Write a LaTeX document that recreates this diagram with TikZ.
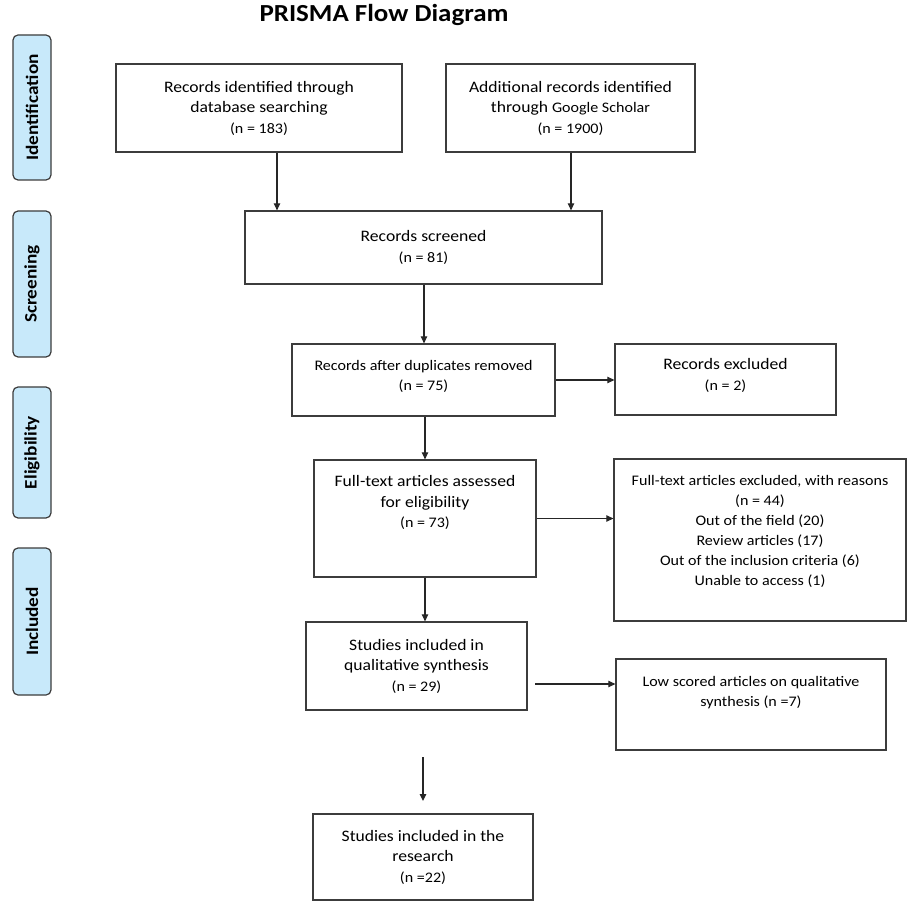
\documentclass[tikz,border=0pt]{standalone}
\usepackage{fontspec}
\setmainfont[FakeStretch=1.1]{Carlito}
\usetikzlibrary{arrows.meta,calc}
\definecolor{boxline}{RGB}{60,60,60}
\definecolor{sidefill}{RGB}{200,233,250}
\newcommand{\mainf}{\fontsize{16}{20.5}\selectfont}
\newcommand{\nf}{\fontsize{14.6}{20}\selectfont}
\tikzset{
  flowbox/.style={draw=boxline,line width=1.3pt,rectangle,align=center,inner sep=2pt,font=\mainf},
  txt/.style={align=center,inner sep=0pt,font=\mainf},
  sidebox/.style={draw=boxline,line width=1.2pt,fill=sidefill,rounded corners=5pt,rotate=90,font=\fontsize{17.5}{20}\selectfont\bfseries,inner sep=0pt},
  arr/.style={draw=black!85,line width=1.1pt,-{Triangle[length=7pt,width=6.5pt]}}
}
\begin{document}
\begin{tikzpicture}[x=1pt,y=-1pt]
\useasboundingbox (0,0) rectangle (908,901);
% title
\node[font=\fontsize{24.5}{28}\selectfont\bfseries] (title) at (384,15) {PRISMA Flow Diagram};
% side labels
\node[sidebox,minimum width=145pt,minimum height=38pt] (sid) at (32,107.5) {Identification};
\node[sidebox,minimum width=146pt,minimum height=38pt] (sscr) at (32,284) {Screening};
\node[sidebox,minimum width=131pt,minimum height=38pt] (selig) at (32,452.5) {Eligibility};
\node[sidebox,minimum width=147pt,minimum height=38pt] (sinc) at (32,621.5) {Included};
% boxes
\node[flowbox,minimum width=286pt,minimum height=88pt] (b1) at (259,108)
  {Records identified through\\database searching\\{\nf (n = 183)}};
\node[flowbox,minimum width=249pt,minimum height=88pt] (b2) at (570.5,108)
  {Additional records identified\\through {\nf Google Scholar}\\{\nf (n = 1900)}};
\node[flowbox,minimum width=357pt,minimum height=73pt] (b3) at (423.5,247.5)
  {Records screened\\{\nf (n = 81)}};
\node[flowbox,minimum width=263pt,minimum height=72pt] (b4) at (423.5,380) {};
\node[txt,font=\nf] (t4) at ([yshift=4pt]b4.center)
  {Records after duplicates removed\\(n = 75)};
\node[flowbox,minimum width=221pt,minimum height=71pt] (b5) at (725.5,379.5) {};
\node[txt] (t5) at ([yshift=4pt]b5.center)
  {Records excluded\\{\nf (n = 2)}};
\node[flowbox,minimum width=222pt,minimum height=117pt] (b6) at (425,518.5) {};
\node[txt] (t6) at ([yshift=16pt]b6.center)
  {Full-text articles assessed\\for eligibility\\{\nf (n = 73)}};
\node[flowbox,minimum width=292pt,minimum height=162pt] (b7) at (760,540) {};
\node[txt,font=\nf] (t7) at ([yshift=9pt]b7.center)
  {Full-text articles excluded, with reasons\\(n = 44)\\Out of the field (20)\\Review articles (17)\\Out of the inclusion criteria (6)\\Unable to access (1)};
\node[flowbox,minimum width=221pt,minimum height=88pt] (b8) at (416.5,666)
  {Studies included in\\qualitative synthesis\\{\nf (n = 29)}};
\node[flowbox,minimum width=270pt,minimum height=91pt] (b9) at (751,704.5) {};
\node[txt,font=\nf] (t9) at ([yshift=12pt]b9.center)
  {Low scored articles on qualitative\\synthesis (n =7)};
\node[flowbox,minimum width=220pt,minimum height=86pt] (b10) at (423,857)
  {Studies included in the\\research\\{\nf (n =22)}};
% helper coordinates
\coordinate (xa) at (277,0);
\coordinate (xb) at (571,0);
\coordinate (xc) at (424,0);
\coordinate (xd) at (425,0);
\coordinate (s9) at (535,684);
\coordinate (f1) at (423,757);
\coordinate (f2) at (423,801);
% connectors
\draw[arr] (b1.south -| xa) -- (b3.north -| xa);
\draw[arr] (b2.south -| xb) -- (b3.north -| xb);
\draw[arr] (b3.south -| xc) -- (b4.north -| xc);
\draw[arr] (b4.east) -- (b5.west |- b4.east);
\draw[arr] (b4.south -| xd) -- (b6.north -| xd);
\draw[arr] (b6.east) -- (b7.west |- b6.east);
\draw[arr] (b6.south -| xd) -- (b8.north -| xd);
\draw[arr] (s9) -- (b9.west |- s9);
\draw[arr] (f1) -- (f2);
\end{tikzpicture}
\end{document}
